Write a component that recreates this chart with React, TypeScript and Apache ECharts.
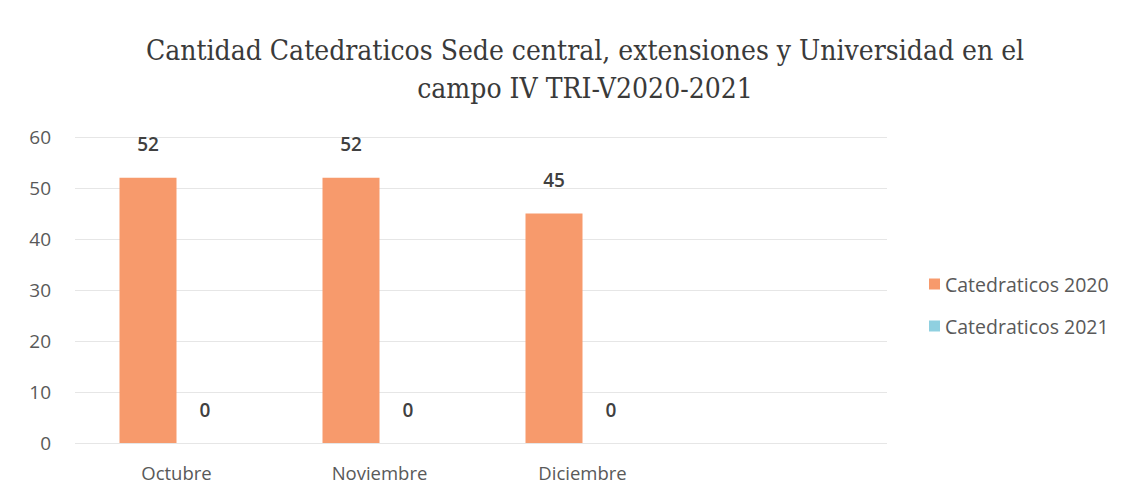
import React, { useEffect, useRef } from "react";
import * as echarts from "echarts";

const categories = ["Octubre", "Noviembre", "Diciembre", ""];
const series2020 = [52, 52, 45, null];
const series2021 = [0, 0, 0, null];
const seriesNames = ["Catedraticos 2020", "Catedraticos 2021"];
const titleText = "Cantidad Catedraticos Sede central, extensiones y Universidad en el\ncampo IV TRI-V2020-2021";

export default function App() {
  const ref = useRef<HTMLDivElement>(null);
  useEffect(() => {
    if (!ref.current) return;
    const chart = echarts.init(ref.current, null, { renderer: "svg" });
    const labelStyle = {
      show: true,
      position: "top" as const,
      color: "#404040",
      fontSize: 19,
      fontFamily: "Open Sans",
      fontWeight: 600 as const,
      distance: 24,
    };
    chart.setOption({
      animation: false,
      backgroundColor: "#ffffff",
      title: {
        text: titleText,
        left: 580,
        textAlign: "center",
        top: 26,
        textStyle: {
          fontFamily: "DejaVu Serif Condensed",
          fontWeight: "normal",
          fontSize: 28,
          lineHeight: 38,
          color: "#3a3a3a",
        },
      },
      legend: {
        orient: "vertical",
        left: 924,
        top: 269,
        itemWidth: 11,
        itemHeight: 11,
        itemGap: 22,
        icon: "rect",
        textStyle: { fontFamily: "Open Sans", fontSize: 19.5, color: "#595959" },
        data: seriesNames,
      },
      grid: { left: 75, right: 246, top: 137, bottom: 53, containLabel: false },
      xAxis: {
        type: "category",
        data: categories,
        axisLine: { show: false },
        axisTick: { show: false },
        axisLabel: { color: "#595959", fontSize: 18.5, fontFamily: "Open Sans", margin: 20 },
      },
      yAxis: {
        type: "value",
        min: 0,
        max: 60,
        interval: 10,
        axisLine: { show: false },
        axisTick: { show: false },
        axisLabel: { color: "#595959", fontSize: 19, fontFamily: "Open Sans", margin: 24 },
        splitLine: { lineStyle: { color: "#e6e6e6", width: 1 } },
      },
      series: [
        {
          name: seriesNames[0],
          type: "bar",
          data: series2020,
          barWidth: 57,
          barGap: "0%",
          itemStyle: { color: "#F79A6C" },
          label: labelStyle,
        },
        {
          name: seriesNames[1],
          type: "bar",
          data: series2021,
          barWidth: 57,
          itemStyle: { color: "#8FD0E0" },
          label: labelStyle,
        },
      ],
    });
    return () => chart.dispose();
  }, []);
  return <div ref={ref} style={{ width: 1133, height: 496, position: "absolute", left: 0, top: 0 }} />;
}
